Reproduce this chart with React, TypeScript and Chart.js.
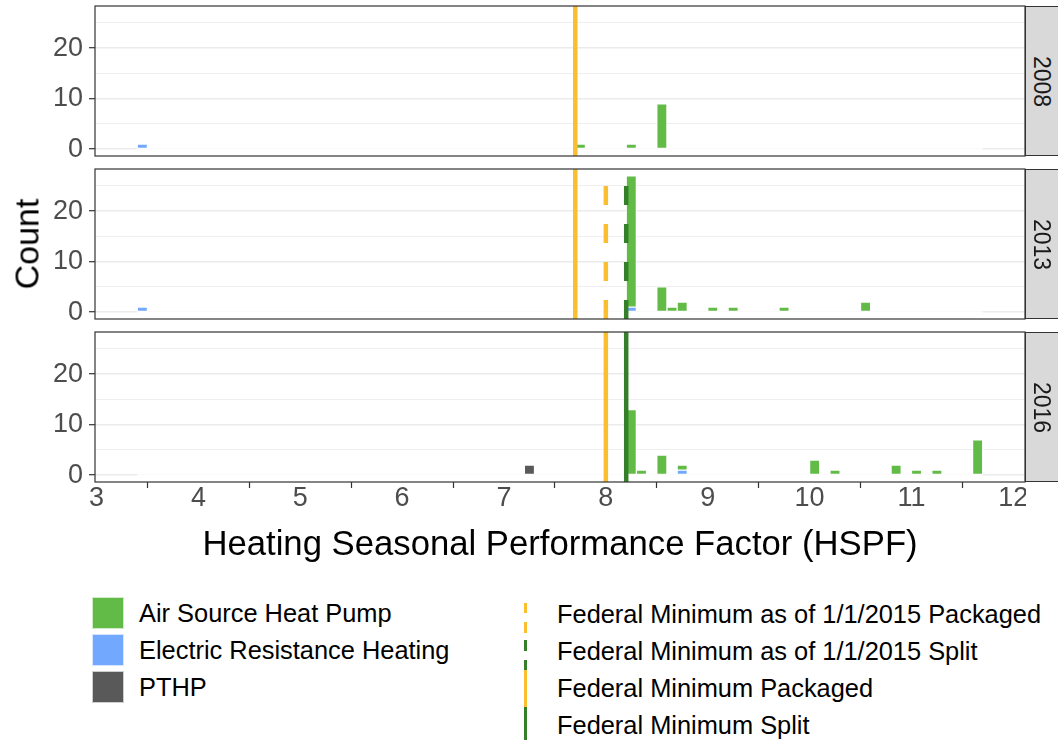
import React, { useEffect, useRef } from 'react';
import { Chart, registerables } from 'chart.js';

Chart.register(...registerables);

// ---------------- data ----------------
const years = ['2008', '2013', '2016'];
const binWidth = 0.1;
const binRange = [3.4, 11.7];
const xLimits = [2.985, 12.115];
const yLimits = [-1.35, 28.35];
const yTicks = [0, 5, 10, 15, 20, 25];
const xTicks = [3, 4, 5, 6, 7, 8, 9, 10, 11, 12];

const ashpHspf2008 = [7.75, 8.25, 8.55];
const ashpCount2008 = [1, 1, 9];
const erhHspf2008 = [3.45];
const erhCount2008 = [1];
const pthpHspf2008: number[] = [];
const pthpCount2008: number[] = [];

const ashpHspf2013 = [8.25, 8.55, 8.65, 8.75, 9.05, 9.25, 9.75, 10.55];
const ashpCount2013 = [26, 5, 1, 2, 1, 1, 1, 2];
const erhHspf2013 = [3.45, 8.25];
const erhCount2013 = [1, 1];
const pthpHspf2013: number[] = [];
const pthpCount2013: number[] = [];

const ashpHspf2016 = [8.25, 8.35, 8.55, 8.75, 10.05, 10.25, 10.85, 11.05, 11.25, 11.65];
const ashpCount2016 = [13, 1, 4, 1, 3, 1, 2, 1, 1, 7];
const erhHspf2016 = [8.75];
const erhCount2016 = [1];
const pthpHspf2016 = [7.25];
const pthpCount2016 = [2];

const fedMinPackaged = [7.7, 7.7, 8.0];
const fedMinSplit: (number | null)[] = [null, null, 8.2];
const fedMin2015Packaged: (number | null)[] = [null, 8.0, null];
const fedMin2015Split: (number | null)[] = [null, 8.2, null];

const fillLegend = ['Air Source Heat Pump', 'Electric Resistance Heating', 'PTHP'];
const lineLegend = [
  'Federal Minimum as of 1/1/2015 Packaged',
  'Federal Minimum as of 1/1/2015 Split',
  'Federal Minimum Packaged',
  'Federal Minimum Split',
];

// ---------------- style ----------------
const FONT = '"Liberation Sans", Arial, Helvetica, sans-serif';
const C_ASHP = '#62BB47';
const C_ERH = '#72A9FF';
const C_PTHP = '#595959';
const C_PACK = '#F9BF30';
const C_SPLIT = '#357F2A';

const PLOT_LEFT = 95;
const PLOT_RIGHT = 1025;
const PANEL_H = 150;
const PAD = 12;
const panelTops = [6, 169, 332];
const X_AXIS_H = 46;

const ashpHspf = [ashpHspf2008, ashpHspf2013, ashpHspf2016];
const ashpCount = [ashpCount2008, ashpCount2013, ashpCount2016];
const erhHspf = [erhHspf2008, erhHspf2013, erhHspf2016];
const erhCount = [erhCount2008, erhCount2013, erhCount2016];
const pthpHspf = [pthpHspf2008, pthpHspf2013, pthpHspf2016];
const pthpCount = [pthpCount2008, pthpCount2013, pthpCount2016];

const barPx = ((PLOT_RIGHT - PLOT_LEFT) / (xLimits[1] - xLimits[0])) * binWidth;

function pts(xs: number[], ys: number[]) {
  return xs.map((x, k) => ({ x, y: ys[k] }));
}

function vline(label: string, x: number | null, color: string, dash: number[], stack: string) {
  if (x === null) return null;
  return {
    type: 'line',
    label,
    data: [
      { x, y: yLimits[0] },
      { x, y: yLimits[1] },
    ],
    borderColor: color,
    borderWidth: 4.5,
    borderDash: dash,
    pointRadius: 0,
    stack,
    order: 0,
  };
}

function buildDatasets(i: number) {
  const bar = (label: string, xs: number[], ys: number[], color: string) => ({
    type: 'bar',
    label,
    data: pts(xs, ys),
    backgroundColor: color,
    borderColor: 'rgba(255,255,255,0.7)',
    borderWidth: 1,
    borderSkipped: false,
    barThickness: barPx,
    stack: 'hist',
    order: 2,
  });
  const ds: any[] = [
    {
      type: 'line',
      label: 'bins',
      data: [
        { x: binRange[0], y: 0 },
        { x: binRange[1], y: 0 },
      ],
      borderColor: '#FFFFFF',
      borderWidth: 2,
      pointRadius: 0,
      stack: 'base',
      order: 3,
    },
    bar('PTHP', pthpHspf[i], pthpCount[i], C_PTHP),
    bar('Electric Resistance Heating', erhHspf[i], erhCount[i], C_ERH),
    bar('Air Source Heat Pump', ashpHspf[i], ashpCount[i], C_ASHP),
    vline('Federal Minimum Packaged', fedMinPackaged[i], C_PACK, [], 'v1'),
    vline('Federal Minimum Split', fedMinSplit[i], C_SPLIT, [], 'v2'),
    vline('Federal Minimum as of 1/1/2015 Packaged', fedMin2015Packaged[i], C_PACK, [19, 19], 'v3'),
    vline('Federal Minimum as of 1/1/2015 Split', fedMin2015Split[i], C_SPLIT, [19, 19], 'v4'),
  ];
  return ds.filter(Boolean);
}

const borderPlugin = {
  id: 'panelBorder',
  afterDraw(chart: any) {
    const { ctx, chartArea: a } = chart;
    ctx.save();
    ctx.strokeStyle = '#333333';
    ctx.lineWidth = 1.2;
    ctx.strokeRect(a.left, a.top, a.right - a.left, a.bottom - a.top);
    ctx.restore();
  },
};

function Panel({ index, bottom }: { index: number; bottom: boolean }) {
  const ref = useRef<HTMLCanvasElement | null>(null);
  useEffect(() => {
    if (!ref.current) return;
    const chart = new Chart(ref.current, {
      type: 'bar',
      data: { datasets: buildDatasets(index) as any },
      plugins: [borderPlugin],
      options: {
        animation: false,
        responsive: false,
        maintainAspectRatio: false,
        layout: { padding: { top: PAD, bottom: bottom ? 0 : PAD, left: 0, right: 1 } },
        plugins: { legend: { display: false }, tooltip: { enabled: false } },
        scales: {
          x: {
            type: 'linear',
            min: xLimits[0],
            max: xLimits[1],
            offset: false,
            display: bottom,
            afterBuildTicks: (s: any) => {
              s.ticks = xTicks.map((v) => ({ value: v }));
            },
            afterFit: (s: any) => {
              s.height = bottom ? X_AXIS_H : 0;
              s.paddingLeft = 0;
              s.paddingRight = 0;
            },
            ticks: {
              autoSkip: false,
              maxRotation: 0,
              padding: 0,
              color: '#4D4D4D',
              font: { family: FONT, size: 27, lineHeight: 0.8 },
              callback: (v: any) => String(v),
            },
            grid: {
              display: true,
              drawOnChartArea: false,
              drawTicks: true,
              tickLength: 6,
              tickColor: '#333333',
              tickWidth: 1.2,
            },
            border: { display: false },
          },
          y: {
            type: 'linear',
            min: yLimits[0],
            max: yLimits[1],
            stacked: true,
            afterBuildTicks: (s: any) => {
              s.ticks = yTicks.map((v) => ({ value: v }));
            },
            afterFit: (s: any) => {
              s.width = PLOT_LEFT;
              s.paddingTop = 0;
              s.paddingBottom = 0;
            },
            ticks: {
              autoSkip: false,
              padding: 6,
              color: '#4D4D4D',
              font: { family: FONT, size: 27 },
              callback: (v: any) => (Number(v) % 10 === 0 ? String(v) : ''),
            },
            grid: {
              drawTicks: true,
              tickLength: 6,
              color: '#EBEBEB',
              lineWidth: (c: any) => (c.tick && c.tick.value % 10 === 0 ? 1.4 : 0.8),
              tickColor: (c: any) => (c.tick && c.tick.value % 10 === 0 ? '#333333' : 'rgba(0,0,0,0)'),
              tickWidth: 1.2,
            },
            border: { display: false },
          },
        },
      } as any,
    });
    return () => chart.destroy();
  }, [index, bottom]);

  const h = PAD + PANEL_H + (bottom ? X_AXIS_H : PAD);
  return (
    <canvas
      ref={ref}
      width={PLOT_RIGHT + 1}
      height={h}
      style={{ position: 'absolute', left: 0, top: panelTops[index] - PAD, width: PLOT_RIGHT + 1, height: h }}
    />
  );
}

function Strip({ index }: { index: number }) {
  return (
    <div
      style={{
        position: 'absolute',
        left: PLOT_RIGHT,
        top: panelTops[index],
        width: 40,
        height: PANEL_H,
        boxSizing: 'border-box',
        background: '#D9D9D9',
        border: '1px solid #333333',
        display: 'flex',
        alignItems: 'center',
        justifyContent: 'center',
        overflow: 'hidden',
      }}
    >
      <div
        style={{
          transform: 'rotate(90deg)',
          font: `23px ${FONT}`,
          color: '#1A1A1A',
          whiteSpace: 'nowrap',
          marginLeft: -6,
        }}
      >
        {years[index]}
      </div>
    </div>
  );
}

function DashKey({ color, dashed, top }: { color: string; dashed: boolean; top: number }) {
  return (
    <div
      style={{
        position: 'absolute',
        left: 524,
        top,
        width: 3,
        height: 37,
        background: dashed
          ? `repeating-linear-gradient(to top, ${color} 0px, ${color} 10.5px, transparent 10.5px, transparent 19.5px)`
          : color,
      }}
    />
  );
}

export default function App() {
  const fillColors = [C_ASHP, C_ERH, C_PTHP];
  const lineColors = [C_PACK, C_SPLIT, C_PACK, C_SPLIT];
  const lineDashed = [true, true, false, false];
  return (
    <div
      style={{
        position: 'fixed',
        left: 0,
        top: 0,
        width: 1058,
        height: 740,
        background: '#FFFFFF',
        overflow: 'hidden',
        fontFamily: FONT,
      }}
    >
      {years.map((_, i) => (
        <Panel key={'p' + i} index={i} bottom={i === years.length - 1} />
      ))}
      {years.map((_, i) => (
        <Strip key={'s' + i} index={i} />
      ))}
      <div
        style={{
          position: 'absolute',
          left: 27,
          top: 244,
          transform: 'translate(-50%, -50%) rotate(-90deg)',
          font: `34px ${FONT}`,
          color: '#000',
          whiteSpace: 'nowrap',
        }}
      >
        Count
      </div>
      <div
        style={{
          position: 'absolute',
          left: (PLOT_LEFT + PLOT_RIGHT) / 2,
          top: 543,
          transform: 'translate(-50%, -50%)',
          font: `34.7px ${FONT}`,
          color: '#000',
          whiteSpace: 'nowrap',
        }}
      >
        Heating Seasonal Performance Factor (HSPF)
      </div>
      {fillLegend.map((t, k) => (
        <React.Fragment key={'f' + k}>
          <div
            style={{
              position: 'absolute',
              left: 92,
              top: 597 + 37 * k,
              width: 32,
              height: 32,
              boxSizing: 'border-box',
              background: fillColors[k],
              border: '1px solid rgba(255,255,255,0.7)',
            }}
          />
          <div
            style={{
              position: 'absolute',
              left: 139,
              top: 613 + 37 * k,
              transform: 'translateY(-50%)',
              font: `25.4px ${FONT}`,
              color: '#000',
              whiteSpace: 'nowrap',
            }}
          >
            {t}
          </div>
        </React.Fragment>
      ))}
      {lineLegend.map((t, k) => (
        <React.Fragment key={'l' + k}>
          <DashKey color={lineColors[k]} dashed={lineDashed[k]} top={596 + 37 * k} />
          <div
            style={{
              position: 'absolute',
              left: 557,
              top: 614 + 37 * k,
              transform: 'translateY(-50%)',
              font: `25.4px ${FONT}`,
              color: '#000',
              whiteSpace: 'nowrap',
            }}
          >
            {t}
          </div>
        </React.Fragment>
      ))}
    </div>
  );
}
